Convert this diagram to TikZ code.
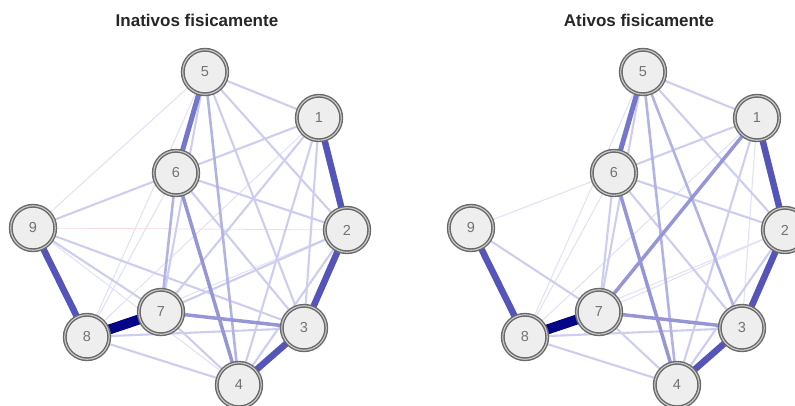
\documentclass[tikz,border=0pt]{standalone}
\usepackage{fontspec}
\setmainfont{Liberation Sans}
\usetikzlibrary{backgrounds}
\definecolor{cnavy}{RGB}{5,5,135}
\definecolor{cstrong}{RGB}{85,85,185}
\definecolor{cmeds}{RGB}{118,118,202}
\definecolor{cmed}{RGB}{150,150,215}
\definecolor{clm}{RGB}{178,178,228}
\definecolor{clight}{RGB}{205,205,239}
\definecolor{cfaint}{RGB}{226,226,246}
\definecolor{cneg}{RGB}{245,220,220}
\definecolor{ringc}{RGB}{105,105,105}
\definecolor{nfill}{RGB}{238,238,238}
\definecolor{ntext}{RGB}{115,115,115}
\tikzset{
  vnode/.style={circle, minimum size=44.5pt, inner sep=0pt, fill=nfill, draw=ringc,
    line width=1.4pt, double=gray!40, double distance=1.1pt, text=ntext,
    font=\fontsize{14.5}{14.5}\selectfont},
  ttl/.style={font=\fontsize{17}{17}\selectfont\bfseries, text=black!85},
  enavy/.style={draw=cnavy, line width=10pt},
  ess/.style={draw=cstrong, line width=6.5pt},
  es/.style={draw=cmeds, line width=5pt},
  em/.style={draw=cmed, line width=3.5pt},
  elm/.style={draw=clm, line width=2.6pt},
  el/.style={draw=clight, line width=2.1pt},
  ef/.style={draw=cfaint, line width=1.1pt},
  eneg/.style={draw=cneg, line width=0.8pt},
}
\newcommand\netnodes[2]{%
  \foreach \n/\x/\y in {1/319/118, 2/347/230, 3/304/328, 4/239/385, 5/205/72,
      6/176/173, 7/161/312, 8/87/337, 9/33/228}
    \node[vnode] (#1\n) at (\x+#2,\y) {\n};
}
\begin{document}
\begin{tikzpicture}[x=1pt, y=-1pt]
\useasboundingbox (0,0) rectangle (795,405);
\clip (0,0) rectangle (795,405);
\node[ttl] (tL) at (197,20) {Inativos fisicamente};
\node[ttl] (tR) at (639,20) {Ativos fisicamente};
\netnodes{L}{0}
\netnodes{R}{438}
\begin{scope}[on background layer]
  \foreach \a/\b/\s in {
      5/9/ef, 5/8/ef, 6/8/ef, 1/8/ef, 9/4/ef, 2/8/ef, 9/2/eneg,
      5/1/el, 5/2/el, 5/3/el, 5/7/el, 1/6/el, 1/7/el, 1/3/el, 1/4/el,
      6/2/el, 6/3/el, 9/7/el, 2/7/el, 2/4/el, 7/4/el, 8/3/el, 8/4/el,
      9/3/el, 6/9/el,
      6/7/elm, 5/4/elm,
      6/4/em, 7/3/em,
      5/6/es,
      9/8/ess, 1/2/ess, 2/3/ess, 3/4/ess,
      7/8/enavy}
    \draw[\s] (L\a) -- (L\b);
  \foreach \a/\b/\s in {
      9/6/ef, 6/8/ef, 5/8/ef, 1/3/ef, 2/7/ef, 1/8/ef, 2/8/ef,
      5/1/el, 5/2/el, 1/6/el, 6/2/el, 6/7/el, 6/3/el, 9/7/el, 8/3/el,
      8/4/el, 7/4/el, 2/4/el, 1/4/el, 5/7/el,
      5/4/elm, 5/3/elm,
      6/4/em, 7/3/em, 1/7/em,
      5/6/es,
      9/8/ess, 1/2/ess, 2/3/ess, 3/4/ess,
      7/8/enavy}
    \draw[\s] (R\a) -- (R\b);
\end{scope}
\end{tikzpicture}
\end{document}
